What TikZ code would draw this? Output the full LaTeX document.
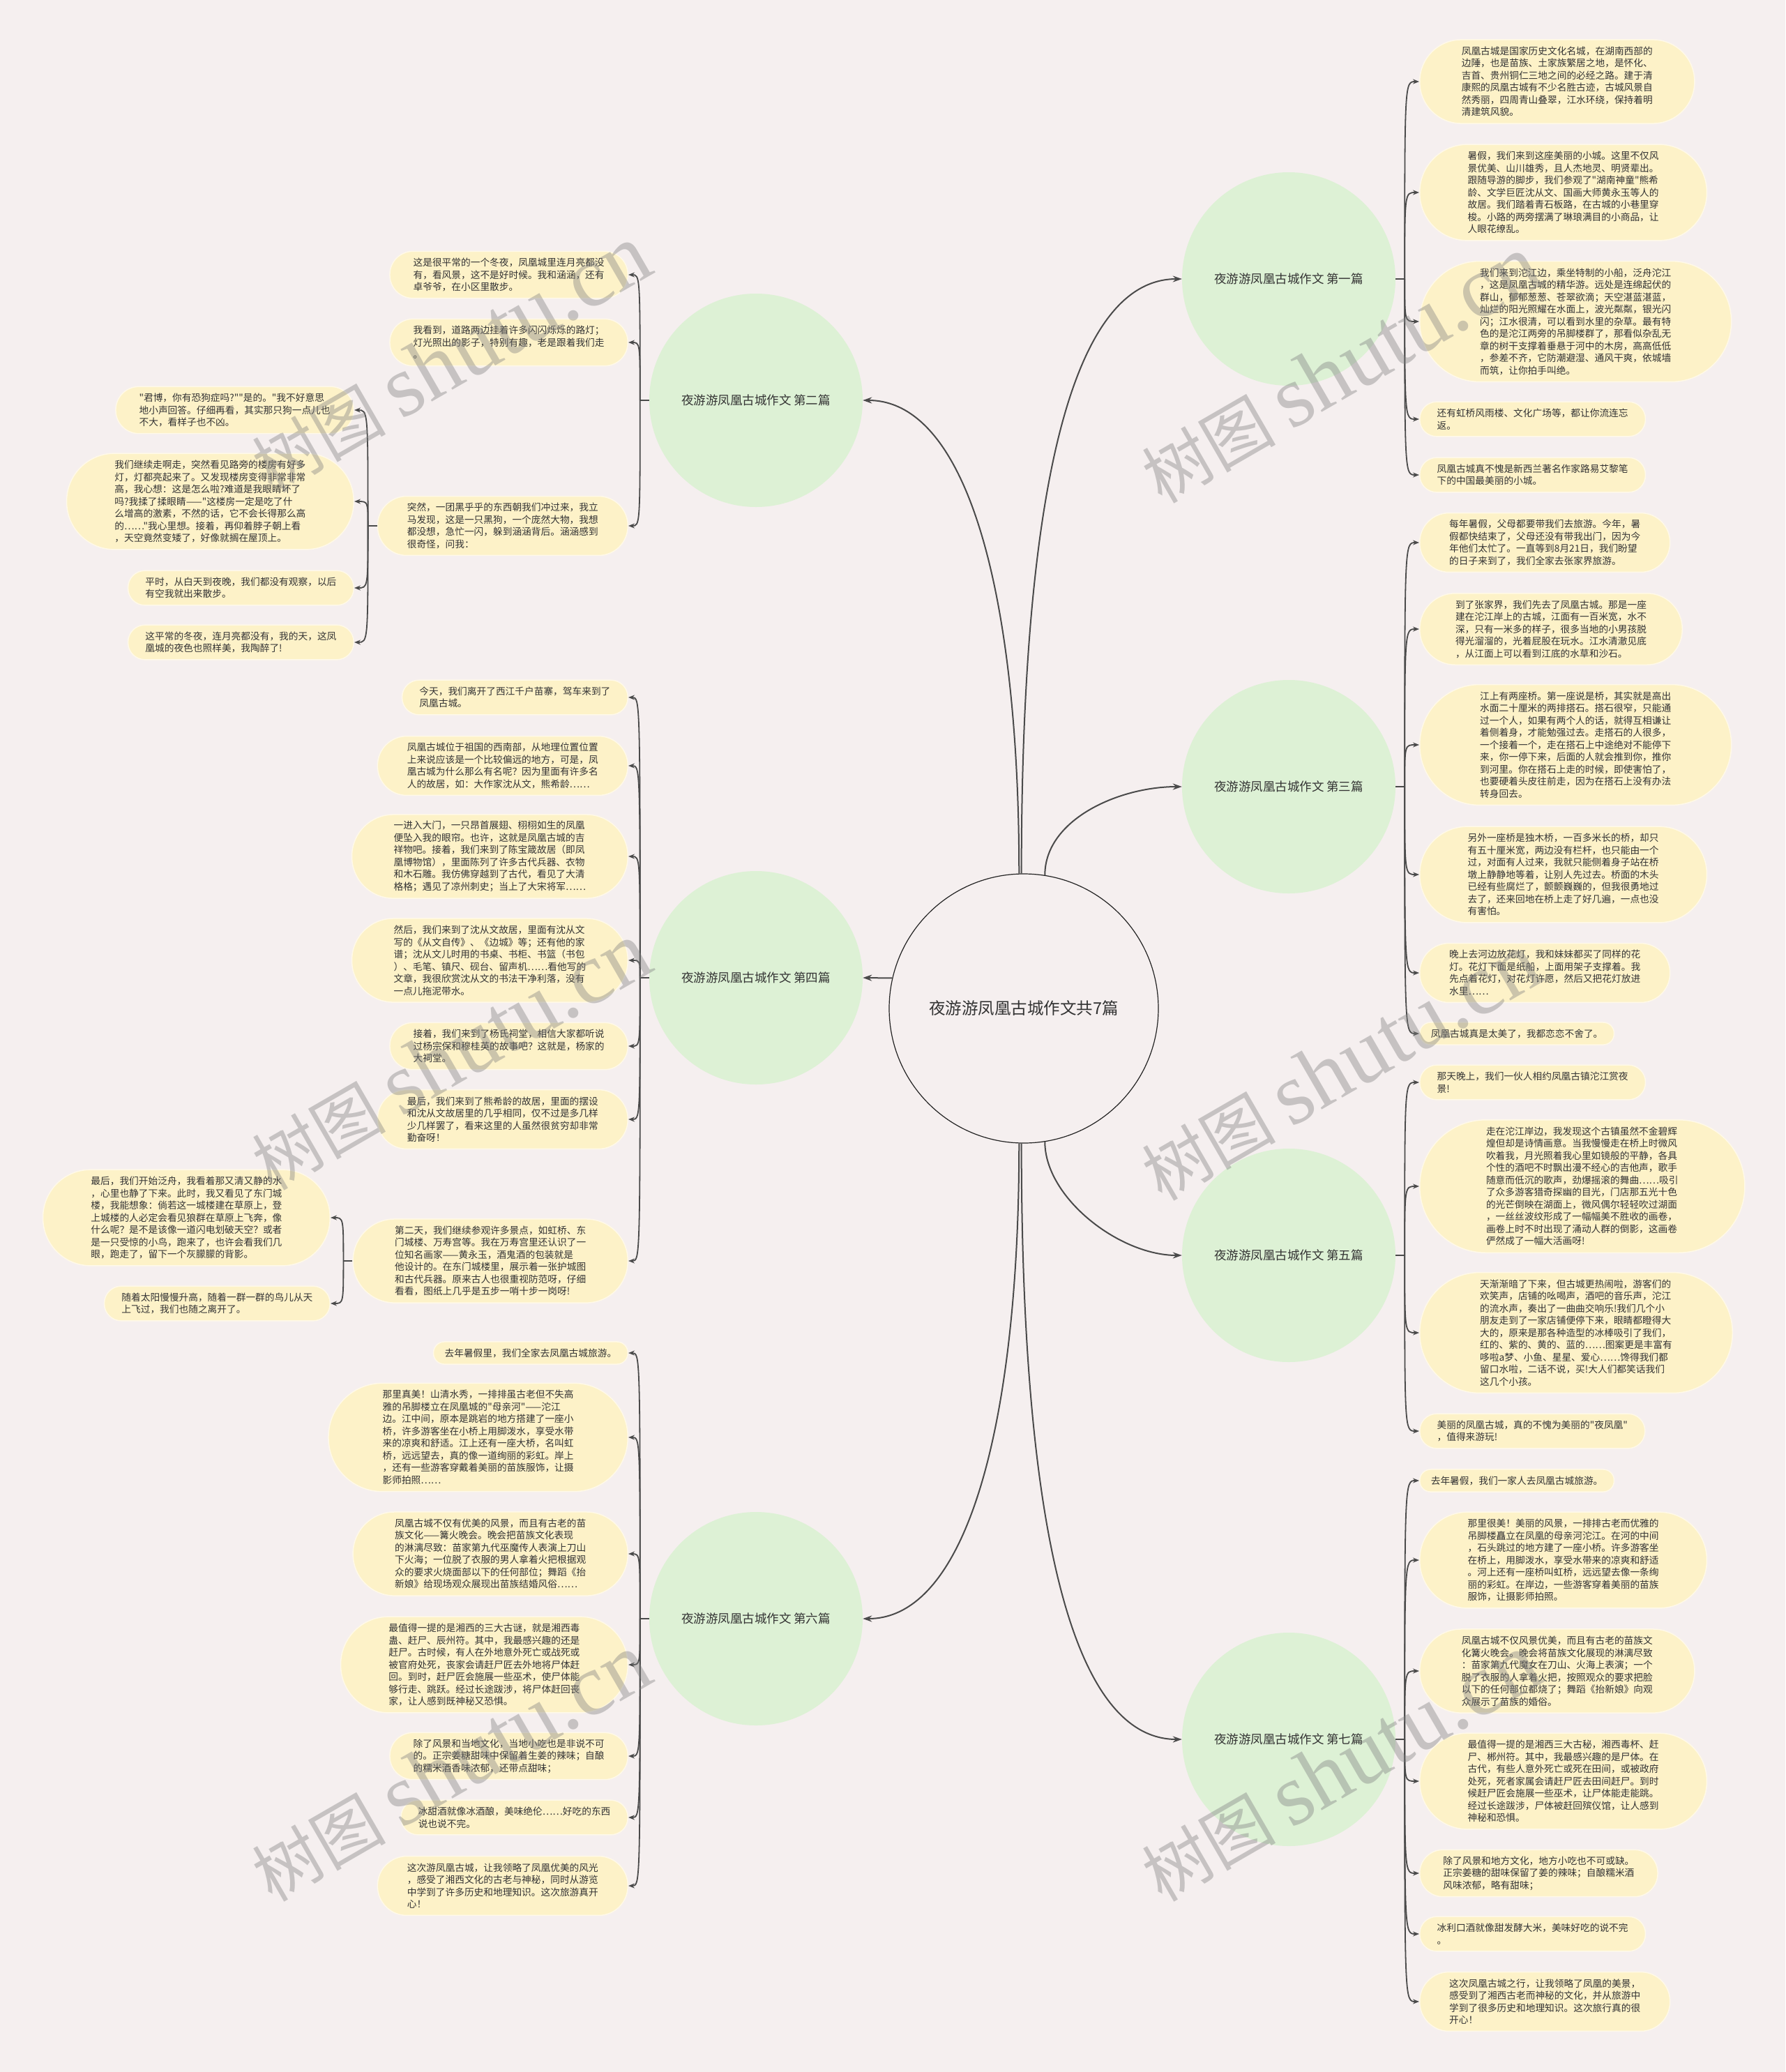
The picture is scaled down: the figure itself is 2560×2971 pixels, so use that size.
\documentclass[tikz,border=0pt]{standalone}
\usepackage{fontspec}
\setmainfont{Noto Sans CJK SC}[Ligatures=TeXOff]
\newfontfamily\wmLatin{Liberation Serif}
\usepackage{tikz}
\usetikzlibrary{arrows.meta, calc}
\definecolor{bgPink}{HTML}{F5EFEF}
\definecolor{leafYellow}{HTML}{FDF2C8}
\definecolor{leafEdge}{HTML}{FFF9E8}
\definecolor{branchGreen}{HTML}{DDF1D5}
\definecolor{lineGray}{HTML}{4A4A4A}
\definecolor{rootEdge}{HTML}{222222}
\definecolor{textDark}{HTML}{333333}
\newcommand{\leafFont}{\fontsize{13.7pt}{17.5pt}\selectfont}
\newcommand{\branchFont}{\fontsize{17.5pt}{21pt}\selectfont}
\newcommand{\rootFont}{\fontsize{23.5pt}{28pt}\selectfont}
\tikzset{
  % #1 = number of text lines in the box
  leafBox/.style    = {rectangle, rounded corners={8.8*#1+6.75},
                       minimum height={17.6*#1+14.5}, inner xsep={8.8*#1+7.25},
                       inner ysep=0pt, draw=leafEdge, line width=1.5pt,
                       fill=leafYellow, align=left, font=\leafFont, text=textDark},
  branchDisc/.style = {circle, fill=branchGreen, minimum size=306pt,
                       inner sep=0pt, font=\branchFont, text=textDark},
  rootDisc/.style   = {circle, draw=rootEdge, line width=1.2pt, fill=bgPink,
                       minimum size=386pt, font=\rootFont, text=textDark},
  mapArrow/.style   = {-{Stealth[length=13pt,width=9pt]}, line width=2pt, draw=lineGray},
  leafArrow/.style  = {-{Stealth[length=9pt,width=7pt]}, line width=1.8pt, draw=lineGray},
  waterMark/.style  = {text=gray, opacity=0.4, rotate=30, inner sep=0pt,
                       font=\fontsize{96pt}{110pt}\selectfont},
}

\begin{document}
\begin{tikzpicture}[x=1pt, y=-1pt]
  \path[use as bounding box, fill=bgPink] (0,0) rectangle (2560,2971);

  % centre and the seven branches
  \node[rootDisc] (root) at (1468,1446) {夜游游凤凰古城作文共7篇};
  \node[branchDisc] (br1) at (1848,400)  {夜游游凤凰古城作文 第一篇};
  \node[branchDisc] (br2) at (1084,574)  {夜游游凤凰古城作文 第二篇};
  \node[branchDisc] (br3) at (1848,1128) {夜游游凤凰古城作文 第三篇};
  \node[branchDisc] (br4) at (1084,1402) {夜游游凤凰古城作文 第四篇};
  \node[branchDisc] (br5) at (1848,1800) {夜游游凤凰古城作文 第五篇};
  \node[branchDisc] (br6) at (1084,2321) {夜游游凤凰古城作文 第六篇};
  \node[branchDisc] (br7) at (1848,2494) {夜游游凤凰古城作文 第七篇};

  \draw[mapArrow] (root.91) .. controls +(0,-500) and +(-170,0) .. (br1.west);
  \draw[mapArrow] (root.92) .. controls +(0,-400) and +(150,0) .. (br2.east);
  \draw[mapArrow] (root.81) .. controls +(0,-80) and +(-90,0) .. (br3.west);
  \draw[mapArrow] (root.167) -- (br4.east);
  \draw[mapArrow] (root.-81) .. controls +(0,80) and +(-90,0) .. (br5.west);
  \draw[mapArrow] (root.-92) .. controls +(0,400) and +(150,0) .. (br6.east);
  \draw[mapArrow] (root.-91) .. controls +(0,500) and +(-170,0) .. (br7.west);

  % branch 1
  \node[leafBox=6, anchor=west] (l1a) at (2035,117) {凤凰古城是国家历史文化名城，在湖南西部的\\边陲，也是苗族、土家族繁居之地，是怀化、\\吉首、贵州铜仁三地之间的必经之路。建于清\\康熙的凤凰古城有不少名胜古迹，古城风景自\\然秀丽，四周青山叠翠，江水环绕，保持着明\\清建筑风貌。};
  \node[leafBox=7, anchor=west] (l1b) at (2035,276) {暑假，我们来到这座美丽的小城。这里不仅风\\景优美、山川雄秀，且人杰地灵、明贤辈出。\\跟随导游的脚步，我们参观了"湖南神童"熊希\\龄、文学巨匠沈从文、国画大师黄永玉等人的\\故居。我们踏着青石板路，在古城的小巷里穿\\梭。小路的两旁摆满了琳琅满目的小商品，让\\人眼花缭乱。};
  \node[leafBox=9, anchor=west] (l1c) at (2035,461) {我们来到沱江边，乘坐特制的小船，泛舟沱江\\，这是凤凰古城的精华游。远处是连绵起伏的\\群山，郁郁葱葱、苍翠欲滴；天空湛蓝湛蓝，\\灿烂的阳光照耀在水面上，波光粼粼，银光闪\\闪；江水很清，可以看到水里的杂草。最有特\\色的是沱江两旁的吊脚楼群了，那看似杂乱无\\章的树干支撑着垂悬于河中的木房，高高低低\\，参差不齐，它防潮避湿、通风干爽，依城墙\\而筑，让你拍手叫绝。};
  \node[leafBox=2, anchor=west] (l1d) at (2035,601) {还有虹桥风雨楼、文化广场等，都让你流连忘\\返。};
  \node[leafBox=2, anchor=west] (l1e) at (2035,681) {凤凰古城真不愧是新西兰著名作家路易艾黎笔\\下的中国最美丽的小城。};
  \coordinate (j1) at ($(br1.east)+(13,0)$);
  \draw[line width=1.8pt, lineGray] (br1.east) -- (j1);
  \foreach \leaf in {l1a,l1b,l1c,l1d,l1e}
    \draw[leafArrow] (j1) .. controls (j1 |- \leaf.west) .. (\leaf.west);

  % branch 3
  \node[leafBox=4, anchor=west] (l3a) at (2035,778) {每年暑假，父母都要带我们去旅游。今年，暑\\假都快结束了，父母还没有带我出门，因为今\\年他们太忙了。一直等到8月21日，我们盼望\\的日子来到了，我们全家去张家界旅游。};
  \node[leafBox=5, anchor=west] (l3b) at (2035,902) {到了张家界，我们先去了凤凰古城。那是一座\\建在沱江岸上的古城，江面有一百米宽，水不\\深，只有一米多的样子，很多当地的小男孩脱\\得光溜溜的，光着屁股在玩水。江水清澈见底\\，从江面上可以看到江底的水草和沙石。};
  \node[leafBox=9, anchor=west] (l3c) at (2035,1068) {江上有两座桥。第一座说是桥，其实就是高出\\水面二十厘米的两排搭石。搭石很窄，只能通\\过一个人，如果有两个人的话，就得互相谦让\\着侧着身，才能勉强过去。走搭石的人很多，\\一个接着一个，走在搭石上中途绝对不能停下\\来，你一停下来，后面的人就会推到你，推你\\到河里。你在搭石上走的时候，即使害怕了，\\也要硬着头皮往前走，因为在搭石上没有办法\\转身回去。};
  \node[leafBox=7, anchor=west] (l3d) at (2035,1254) {另外一座桥是独木桥，一百多米长的桥，却只\\有五十厘米宽，两边没有栏杆，也只能由一个\\过，对面有人过来，我就只能侧着身子站在桥\\墩上静静地等着，让别人先过去。桥面的木头\\已经有些腐烂了，颤颤巍巍的，但我很勇地过\\去了，还来回地在桥上走了好几遍，一点也没\\有害怕。};
  \node[leafBox=4, anchor=west] (l3e) at (2035,1395) {晚上去河边放花灯，我和妹妹都买了同样的花\\灯。花灯下面是纸船，上面用架子支撑着。我\\先点着花灯，对花灯许愿，然后又把花灯放进\\水里……};
  \node[leafBox=1, anchor=west] (l3f) at (2035,1482) {凤凰古城真是太美了，我都恋恋不舍了。};
  \coordinate (j3) at ($(br3.east)+(13,0)$);
  \draw[line width=1.8pt, lineGray] (br3.east) -- (j3);
  \foreach \leaf in {l3a,l3b,l3c,l3d,l3e,l3f}
    \draw[leafArrow] (j3) .. controls (j3 |- \leaf.west) .. (\leaf.west);

  % branch 5
  \node[leafBox=2, anchor=west] (l5a) at (2035,1552) {那天晚上，我们一伙人相约凤凰古镇沱江赏夜\\景!};
  \node[leafBox=10, anchor=west] (l5b) at (2035,1701) {走在沱江岸边，我发现这个古镇虽然不金碧辉\\煌但却是诗情画意。当我慢慢走在桥上时微风\\吹着我，月光照着我心里如镜般的平静，各具\\个性的酒吧不时飘出漫不经心的吉他声，歌手\\随意而低沉的歌声，劲爆摇滚的舞曲……吸引\\了众多游客猎奇探幽的目光，门店那五光十色\\的光芒倒映在湖面上，微风偶尔轻轻吹过湖面\\，一丝丝波纹形成了一幅幅美不胜收的画卷，\\画卷上时不时出现了涌动人群的倒影，这画卷\\俨然成了一幅大活画呀!};
  \node[leafBox=9, anchor=west] (l5c) at (2035,1911) {天渐渐暗了下来，但古城更热闹啦，游客们的\\欢笑声，店铺的吆喝声，酒吧的音乐声，沱江\\的流水声，奏出了一曲曲交响乐!我们几个小\\朋友走到了一家店铺便停下来，眼睛都瞪得大\\大的，原来是那各种造型的冰棒吸引了我们，\\红的、紫的、黄的、蓝的……图案更是丰富有\\哆啦a梦、小鱼、星星、爱心……馋得我们都\\留口水啦，二话不说，买!大人们都笑话我们\\这几个小孩。};
  \node[leafBox=2, anchor=west] (l5d) at (2035,2052) {美丽的凤凰古城，真的不愧为美丽的"夜凤凰"\\，值得来游玩!};
  \coordinate (j5) at ($(br5.east)+(13,0)$);
  \draw[line width=1.8pt, lineGray] (br5.east) -- (j5);
  \foreach \leaf in {l5a,l5b,l5c,l5d}
    \draw[leafArrow] (j5) .. controls (j5 |- \leaf.west) .. (\leaf.west);

  % branch 7
  \node[leafBox=1, anchor=west] (l7a) at (2035,2123) {去年暑假，我们一家人去凤凰古城旅游。};
  \node[leafBox=7, anchor=west] (l7b) at (2035,2237) {那里很美！美丽的风景，一排排古老而优雅的\\吊脚楼矗立在凤凰的母亲河沱江。在河的中间\\，石头跳过的地方建了一座小桥。许多游客坐\\在桥上，用脚泼水，享受水带来的凉爽和舒适\\。河上还有一座桥叫虹桥，远远望去像一条绚\\丽的彩虹。在岸边，一些游客穿着美丽的苗族\\服饰，让摄影师拍照。};
  \node[leafBox=6, anchor=west] (l7c) at (2035,2396) {凤凰古城不仅风景优美，而且有古老的苗族文\\化篝火晚会。晚会将苗族文化展现的淋漓尽致\\：苗家第九代魔女在刀山、火海上表演；一个\\脱了衣服的人拿着火把，按照观众的要求把脸\\以下的任何部位都烧了；舞蹈《抬新娘》向观\\众展示了苗族的婚俗。};
  \node[leafBox=7, anchor=west] (l7d) at (2035,2554) {最值得一提的是湘西三大古秘，湘西毒杯、赶\\尸、郴州符。其中，我最感兴趣的是尸体。在\\古代，有些人意外死亡或死在田间，或被政府\\处死，死者家属会请赶尸匠去田间赶尸。到时\\候赶尸匠会施展一些巫术，让尸体能走能跳。\\经过长途跋涉，尸体被赶回殡仪馆，让人感到\\神秘和恐惧。};
  \node[leafBox=3, anchor=west] (l7e) at (2035,2686) {除了风景和地方文化，地方小吃也不可或缺。\\正宗姜糖的甜味保留了姜的辣味；自酿糯米酒\\风味浓郁，略有甜味；};
  \node[leafBox=2, anchor=west] (l7f) at (2035,2773) {冰利口酒就像甜发酵大米，美味好吃的说不完\\。};
  \node[leafBox=4, anchor=west] (l7g) at (2035,2870) {这次凤凰古城之行，让我领略了凤凰的美景，\\感受到了湘西古老而神秘的文化，并从旅游中\\学到了很多历史和地理知识。这次旅行真的很\\开心！};
  \coordinate (j7) at ($(br7.east)+(13,0)$);
  \draw[line width=1.8pt, lineGray] (br7.east) -- (j7);
  \foreach \leaf in {l7a,l7b,l7c,l7d,l7e,l7f,l7g}
    \draw[leafArrow] (j7) .. controls (j7 |- \leaf.west) .. (\leaf.west);

  % branch 2
  \node[leafBox=3, anchor=east] (l2a) at (901,394) {这是很平常的一个冬夜，凤凰城里连月亮都没\\有，看风景，这不是好时候。我和涵涵，还有\\卓爷爷，在小区里散步。};
  \node[leafBox=3, anchor=east] (l2b) at (901,491) {我看到，道路两边挂着许多闪闪烁烁的路灯；\\灯光照出的影子，特别有趣，老是跟着我们走\\。};
  \node[leafBox=4, anchor=east] (l2c) at (901,754) {突然，一团黑乎乎的东西朝我们冲过来，我立\\马发现，这是一只黑狗，一个庞然大物，我想\\都没想，急忙一闪，躲到涵涵背后。涵涵感到\\很奇怪，问我：};
  \coordinate (j2) at ($(br2.west)+(-13,0)$);
  \draw[line width=1.8pt, lineGray] (br2.west) -- (j2);
  \foreach \leaf in {l2a,l2b,l2c}
    \draw[leafArrow] (j2) .. controls (j2 |- \leaf.east) .. (\leaf.east);

  \node[leafBox=3, anchor=east] (l2d) at (508,588) {"君博，你有恐狗症吗?""是的。"我不好意思\\地小声回答。仔细再看，其实那只狗一点儿也\\不大，看样子也不凶。};
  \node[leafBox=7, anchor=east] (l2e) at (508,719) {我们继续走啊走，突然看见路旁的楼房有好多\\灯，灯都亮起来了。又发现楼房变得非常非常\\高，我心想：这是怎么啦?难道是我眼睛坏了\\吗?我揉了揉眼睛——"这楼房一定是吃了什\\么增高的激素，不然的话，它不会长得那么高\\的……"我心里想。接着，再仰着脖子朝上看\\，天空竟然变矮了，好像就搁在屋顶上。};
  \node[leafBox=2, anchor=east] (l2f) at (508,843) {平时，从白天到夜晚，我们都没有观察，以后\\有空我就出来散步。};
  \node[leafBox=2, anchor=east] (l2g) at (508,921) {这平常的冬夜，连月亮都没有，我的天，这凤\\凰城的夜色也照样美，我陶醉了!};
  \coordinate (j2c) at ($(l2c.west)+(-13,0)$);
  \draw[line width=1.8pt, lineGray] (l2c.west) -- (j2c);
  \foreach \leaf in {l2d,l2e,l2f,l2g}
    \draw[leafArrow] (j2c) .. controls (j2c |- \leaf.east) .. (\leaf.east);

  % branch 4
  \node[leafBox=2, anchor=east] (l4a) at (901,1000) {今天，我们离开了西江千户苗寨，驾车来到了\\凤凰古城。};
  \node[leafBox=4, anchor=east] (l4b) at (901,1098) {凤凰古城位于祖国的西南部，从地理位置位置\\上来说应该是一个比较偏远的地方，可是，凤\\凰古城为什么那么有名呢？因为里面有许多名\\人的故居，如：大作家沈从文，熊希龄……};
  \node[leafBox=6, anchor=east] (l4c) at (901,1228) {一进入大门，一只昂首展翅、栩栩如生的凤凰\\便坠入我的眼帘。也许，这就是凤凰古城的吉\\祥物吧。接着，我们来到了陈宝箴故居（即凤\\凰博物馆），里面陈列了许多古代兵器、衣物\\和木石雕。我仿佛穿越到了古代，看见了大清\\格格；遇见了凉州刺史；当上了大宋将军……};
  \node[leafBox=6, anchor=east] (l4d) at (901,1377) {然后，我们来到了沈从文故居，里面有沈从文\\写的《从文自传》、《边城》等；还有他的家\\谱；沈从文儿时用的书桌、书柜、书篮（书包\\）、毛笔、镇尺、砚台、留声机……看他写的\\文章，我很欣赏沈从文的书法干净利落，没有\\一点儿拖泥带水。};
  \node[leafBox=3, anchor=east] (l4e) at (901,1500) {接着，我们来到了杨氏祠堂，相信大家都听说\\过杨宗保和穆桂英的故事吧？这就是，杨家的\\大祠堂。};
  \node[leafBox=4, anchor=east] (l4f) at (901,1605) {最后，我们来到了熊希龄的故居，里面的摆设\\和沈从文故居里的几乎相同，仅不过是多几样\\少几样罢了，看来这里的人虽然很贫穷却非常\\勤奋呀！};
  \node[leafBox=6, anchor=east] (l4g) at (901,1808) {第二天，我们继续参观许多景点，如虹桥、东\\门城楼、万寿宫等。我在万寿宫里还认识了一\\位知名画家——黄永玉，酒鬼酒的包装就是\\他设计的。在东门城楼里，展示着一张护城图\\和古代兵器。原来古人也很重视防范呀，仔细\\看看，图纸上几乎是五步一哨十步一岗呀!};
  \coordinate (j4) at ($(br4.west)+(-13,0)$);
  \draw[line width=1.8pt, lineGray] (br4.west) -- (j4);
  \foreach \leaf in {l4a,l4b,l4c,l4d,l4e,l4f,l4g}
    \draw[leafArrow] (j4) .. controls (j4 |- \leaf.east) .. (\leaf.east);

  \node[leafBox=7, anchor=east] (l4h) at (474,1746) {最后，我们开始泛舟，我看着那又清又静的水\\，心里也静了下来。此时，我又看见了东门城\\楼，我能想象：倘若这一城楼建在草原上，登\\上城楼的人必定会看见狼群在草原上飞奔，像\\什么呢？是不是该像一道闪电划破天空？或者\\是一只受惊的小鸟，跑来了，也许会看我们几\\眼，跑走了，留下一个灰朦朦的背影。};
  \node[leafBox=2, anchor=east] (l4i) at (474,1869) {随着太阳慢慢升高，随着一群一群的鸟儿从天\\上飞过，我们也随之离开了。};
  \coordinate (j4g) at ($(l4g.west)+(-13,0)$);
  \draw[line width=1.8pt, lineGray] (l4g.west) -- (j4g);
  \foreach \leaf in {l4h,l4i}
    \draw[leafArrow] (j4g) .. controls (j4g |- \leaf.east) .. (\leaf.east);

  % branch 6
  \node[leafBox=1, anchor=east] (l6a) at (901,1940) {去年暑假里，我们全家去凤凰古城旅游。};
  \node[leafBox=8, anchor=east] (l6b) at (901,2061) {那里真美！山清水秀，一排排虽古老但不失高\\雅的吊脚楼立在凤凰城的"母亲河"——沱江\\边。江中间，原本是跳岩的地方搭建了一座小\\桥，许多游客坐在小桥上用脚泼水，享受水带\\来的凉爽和舒适。江上还有一座大桥，名叫虹\\桥，远远望去，真的像一道绚丽的彩虹。岸上\\，还有一些游客穿戴着美丽的苗族服饰，让摄\\影师拍照……};
  \node[leafBox=6, anchor=east] (l6c) at (901,2228) {凤凰古城不仅有优美的风景，而且有古老的苗\\族文化——篝火晚会。晚会把苗族文化表现\\的淋漓尽致：苗家第九代巫魔传人表演上刀山\\下火海；一位脱了衣服的男人拿着火把根据观\\众的要求火烧面部以下的任何部位；舞蹈《抬\\新娘》给现场观众展现出苗族结婚风俗……};
  \node[leafBox=7, anchor=east] (l6d) at (901,2387) {最值得一提的是湘西的三大古谜，就是湘西毒\\蛊、赶尸、辰州符。其中，我最感兴趣的还是\\赶尸。古时候，有人在外地意外死亡或战死或\\被官府处死，丧家会请赶尸匠去外地将尸体赶\\回。到时，赶尸匠会施展一些巫术，使尸体能\\够行走、跳跃。经过长途跋涉，将尸体赶回丧\\家，让人感到既神秘又恐惧。};
  \node[leafBox=3, anchor=east] (l6e) at (901,2518) {除了风景和当地文化，当地小吃也是非说不可\\的。正宗姜糖甜味中保留着生姜的辣味；自酿\\的糯米酒香味浓郁，还带点甜味；};
  \node[leafBox=2, anchor=east] (l6f) at (901,2606) {冰甜酒就像冰酒酿，美味绝伦……好吃的东西\\说也说不完。};
  \node[leafBox=4, anchor=east] (l6g) at (901,2704) {这次游凤凰古城，让我领略了凤凰优美的风光\\，感受了湘西文化的古老与神秘，同时从游览\\中学到了许多历史和地理知识。这次旅游真开\\心！};
  \coordinate (j6) at ($(br6.west)+(-13,0)$);
  \draw[line width=1.8pt, lineGray] (br6.west) -- (j6);
  \foreach \leaf in {l6a,l6b,l6c,l6d,l6e,l6f,l6g}
    \draw[leafArrow] (j6) .. controls (j6 |- \leaf.east) .. (\leaf.east);

  % watermarks
  \foreach \wx/\wy [count=\i] in {646/515, 1922/530, 646/1515, 1922/1530, 646/2535, 1922/2535}
    \node[waterMark] (wm\i) at (\wx,\wy) {树图 {\wmLatin\fontsize{126pt}{130pt}\selectfont shutu.cn}};
\end{tikzpicture}
\end{document}
